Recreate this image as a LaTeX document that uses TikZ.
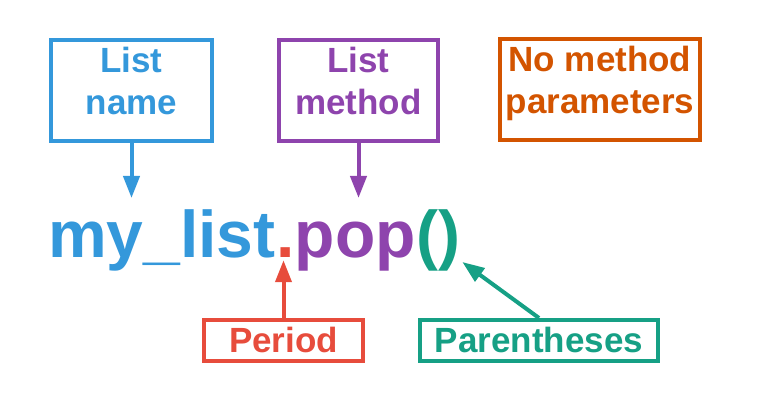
\documentclass[tikz,border=0pt]{standalone}
\usepackage{fontspec}
\setmainfont{Liberation Sans}
\usetikzlibrary{arrows.meta,positioning}

\definecolor{cBlue}{HTML}{3498DB}
\definecolor{cPurple}{HTML}{8E44AD}
\definecolor{cOrange}{HTML}{D35400}
\definecolor{cRed}{HTML}{E74C3C}
\definecolor{cGreen}{HTML}{16A085}

\begin{document}
\begin{tikzpicture}[
    x=1pt, y=-1pt,
    labelbox/.style={
      draw, line width=4pt, inner sep=0pt,
      align=center, font=\fontsize{35}{42}\selectfont\bfseries,
      text height=72pt, text depth=23pt, minimum height=101pt,
    },
    tagbox/.style={
      draw, line width=4pt, inner sep=0pt,
      font=\fontsize{35}{42}\selectfont\bfseries,
      text height=25pt, text depth=0pt, minimum height=41pt,
    },
    codepart/.style={
      inner sep=0pt, anchor=base west,
      font=\fontsize{66}{72}\selectfont\bfseries,
    },
    pointer/.style={line width=4pt, -{Triangle[length=22pt,width=16pt]}},
  ]
\useasboundingbox (0,0) rectangle (780,403);
% --- row y-positions
\def\rTop{90.5}
\def\rCode{258}
\def\rTag{340.5}

% Row 1 — the three label boxes
\node[labelbox, draw=cBlue, text=cBlue, minimum width=161pt] (namebox) at (131.5,\rTop) {List\\name};
\node[labelbox, draw=cPurple, text=cPurple, minimum width=159pt] (methodbox) at (358.5,\rTop) {List\\method};
\node[labelbox, draw=cOrange, text=cOrange, minimum width=200pt] (parambox) at (600,89.5) {No method\\parameters};

% Row 2 — the code line, one node per part
\node[codepart, text=cBlue] (lstname) at (48,\rCode) {my\_list};
\node[codepart, text=cRed] (dot) at (lstname.base east) {.};
\node[codepart, text=cPurple] (meth) at (dot.base east) {pop};
\node[codepart, text=cGreen] (parens) at (meth.base east) {()};

% Row 3 — the two tags below
\node[tagbox, draw=cRed, text=cRed, minimum width=159pt] (periodbox) at (283.5,\rTag) {Period};
\node[tagbox, draw=cGreen, text=cGreen, minimum width=238pt] (parbox) at (539,\rTag) {Parentheses};

% --- pointers
\draw[pointer, cBlue, shorten >=12pt] (namebox.south) -- (namebox.south |- lstname.north);
\draw[pointer, cPurple, shorten >=12pt] (methodbox.south) -- (methodbox.south |- lstname.north);
\draw[pointer, cRed, shorten >=2pt] (periodbox.north) -- (periodbox.north |- dot.south);
\draw[pointer, cGreen] (parbox.north) -- ([shift={(2pt,-4pt)}]parens.base east);
\end{tikzpicture}
\end{document}
